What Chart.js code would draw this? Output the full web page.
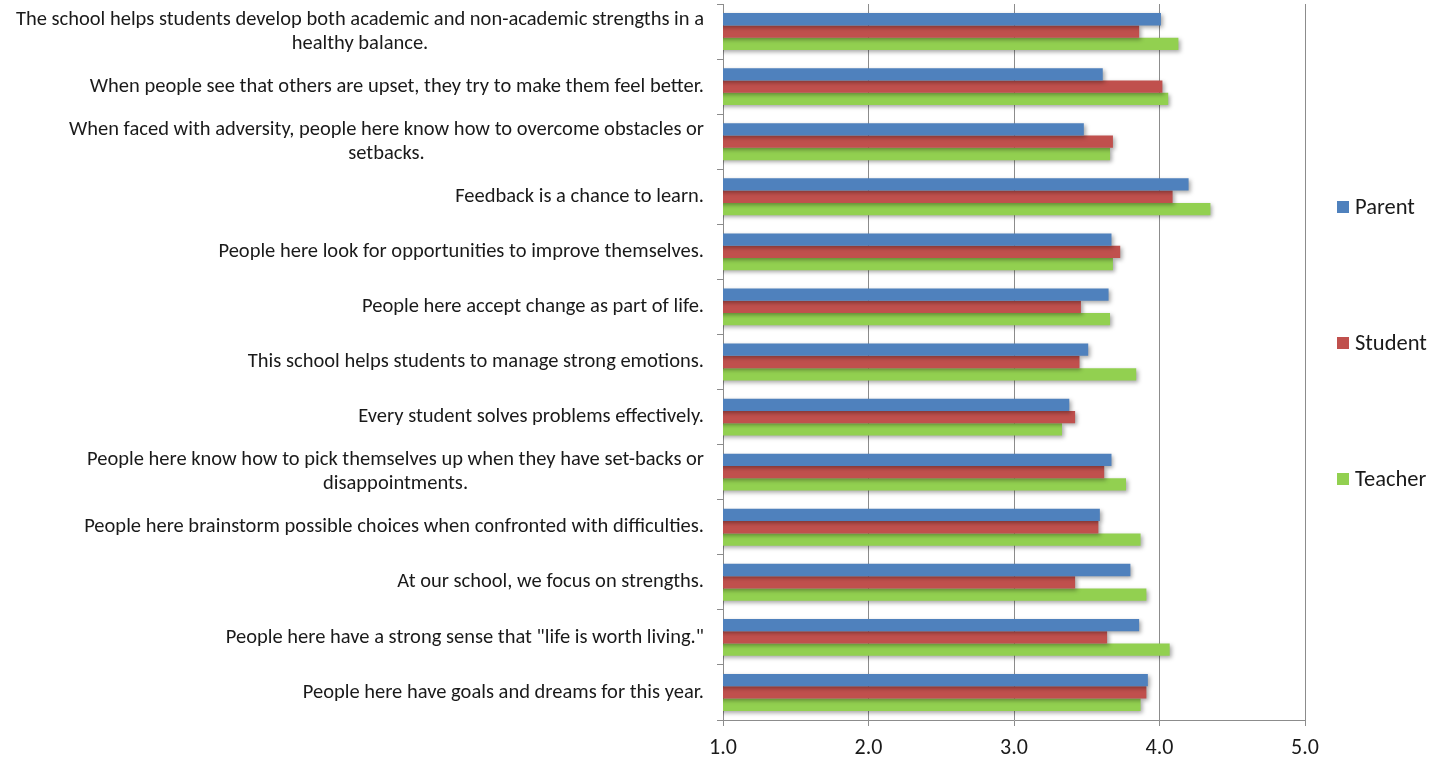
<!DOCTYPE html>
<html lang="en">
<head>
  <meta charset="UTF-8">
  <title>School Climate Survey</title>
  <script src="https://cdn.jsdelivr.net/npm/chart.js"></script>
  <style>
    body { margin: 0; background: #fff; }
  </style>
</head>
<body>
  <canvas id="surveyChart" width="1447" height="765"></canvas>

  <script>
    // Survey statements (wrapped ones are split into lines)
    const statements = [
      ["The school helps students develop both academic and non-academic strengths in a", "healthy balance."],
      "When people see that others are upset, they try to make them feel better.",
      ["When faced with adversity, people here know how to overcome obstacles or", "setbacks."],
      "Feedback is a chance to learn.",
      "People here look for opportunities to improve themselves.",
      "People here accept change as part of life.",
      "This school helps students to manage strong emotions.",
      "Every student solves problems effectively.",
      ["People here know how to pick themselves up when they have set-backs or", "disappointments."],
      "People here brainstorm possible choices when confronted with difficulties.",
      "At our school, we focus on strengths.",
      "People here have a strong sense that \"life is worth living.\"",
      "People here have goals and dreams for this year."
    ];

    // Mean scores per group
    const parentScores  = [4.01, 3.61, 3.48, 4.20, 3.67, 3.65, 3.51, 3.38, 3.67, 3.59, 3.80, 3.86, 3.92];
    const studentScores = [3.86, 4.02, 3.68, 4.09, 3.73, 3.46, 3.45, 3.42, 3.62, 3.58, 3.42, 3.64, 3.91];
    const teacherScores = [4.13, 4.06, 3.66, 4.35, 3.68, 3.66, 3.84, 3.33, 3.77, 3.87, 3.91, 4.07, 3.87];

    const xTicks = [1, 2, 3, 4, 5];

    const fontFamily = 'Carlito, Lato, sans-serif';

    // soft drop shadow under the bars
    const barShadow = {
      id: 'barShadow',
      beforeDatasetsDraw(chart) {
        const ctx = chart.ctx;
        ctx.save();
        ctx.shadowColor = 'rgba(0, 0, 0, 0.35)';
        ctx.shadowBlur = 4;
        ctx.shadowOffsetX = 2;
        ctx.shadowOffsetY = 2;
      },
      afterDatasetsDraw(chart) {
        chart.ctx.restore();
      }
    };

    // category labels: block right aligned, lines centred inside the block
    const statementLabels = {
      id: 'statementLabels',
      afterDraw(chart) {
        const ctx = chart.ctx;
        const yScale = chart.scales.y;
        const right = chart.chartArea.left - 19;
        const lineHeight = 24;
        ctx.save();
        ctx.font = '20.5px ' + fontFamily;
        ctx.fillStyle = '#1a1a1a';
        ctx.textAlign = 'center';
        ctx.textBaseline = 'middle';
        chart.data.labels.forEach((label, i) => {
          const lines = Array.isArray(label) ? label : [label];
          const blockWidth = Math.max(...lines.map(l => ctx.measureText(l).width));
          const cx = right - blockWidth / 2;
          const cy = yScale.getPixelForValue(i);
          lines.forEach((line, j) => {
            const y = cy + (j - (lines.length - 1) / 2) * lineHeight;
            ctx.fillText(line, cx, y);
          });
        });
        ctx.restore();
      }
    };

    // legend spread down the right side
    const sideLegend = {
      id: 'sideLegend',
      afterDraw(chart) {
        const ctx = chart.ctx;
        const rows = [207, 343, 479];
        ctx.save();
        ctx.font = '22.5px ' + fontFamily;
        ctx.textBaseline = 'middle';
        ctx.textAlign = 'left';
        chart.data.datasets.forEach((ds, i) => {
          ctx.fillStyle = ds.backgroundColor;
          ctx.fillRect(1337, rows[i] - 6, 12, 12);
          ctx.fillStyle = '#1a1a1a';
          ctx.fillText(ds.label, 1355, rows[i] + 1);
        });
        ctx.restore();
      }
    };

    const ctx = document.getElementById('surveyChart').getContext('2d');
    new Chart(ctx, {
      type: 'bar',
      data: {
        labels: statements,
        datasets: [
          { label: 'Parent',  data: parentScores,  backgroundColor: '#4F81BD' },
          { label: 'Student', data: studentScores, backgroundColor: '#C0504D' },
          { label: 'Teacher', data: teacherScores, backgroundColor: '#92D050' }
        ]
      },
      options: {
        indexAxis: 'y',
        responsive: false,
        animation: false,
        categoryPercentage: 0.67,
        barPercentage: 1.0,
        layout: { padding: { top: 4, right: 142, bottom: 0, left: 0 } },
        plugins: {
          legend: { display: false },
          tooltip: { enabled: false }
        },
        scales: {
          x: {
            min: 1,
            max: 5,
            afterBuildTicks(scale) {
              scale.ticks = xTicks.map(v => ({ value: v }));
            },
            afterFit(scale) { scale.height = 45; },
            ticks: {
              callback: v => Number(v).toFixed(1),
              color: '#1a1a1a',
              font: { family: fontFamily, size: 22 },
              padding: 9,
              maxRotation: 0
            },
            grid: { color: '#8c8c8c', tickLength: 6 },
            border: { color: '#8c8c8c' }
          },
          y: {
            ticks: { display: false },
            afterFit(scale) { scale.width = 723; },
            grid: { drawOnChartArea: false, color: '#8c8c8c', tickLength: 6 },
            border: { color: '#8c8c8c' }
          }
        }
      },
      plugins: [barShadow, statementLabels, sideLegend]
    });
  </script>
</body>
</html>
